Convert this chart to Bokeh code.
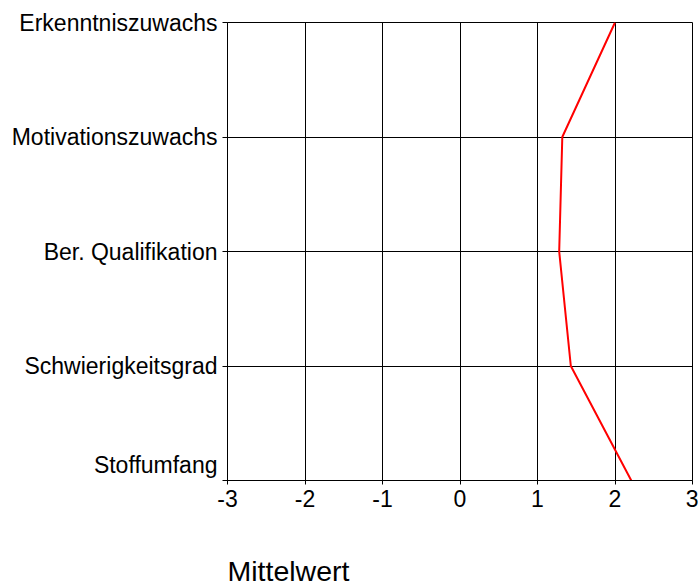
from bokeh.plotting import figure
from bokeh.models import Range1d, FixedTicker, Title
from bokeh.embed import file_html
from bokeh.resources import INLINE

categories = ["Erkenntniszuwachs", "Motivationszuwachs", "Ber. Qualifikation",
              "Schwierigkeitsgrad", "Stoffumfang"]
means = [2.0, 1.32, 1.28, 1.43, 2.21]
x_ticks = [-3, -2, -1, 0, 1, 2, 3]
x_title = "Mittelwert"

n = len(categories)
ypos = [n - 1 - i for i in range(n)]

p = figure(width=698, height=588, output_backend="svg", toolbar_location=None,
           x_range=Range1d(-3, 3), y_range=Range1d(0, n - 1),
           min_border_left=227, min_border_right=6, min_border_top=22,
           min_border_bottom=40)
p.frame_width = 465
p.frame_height = 458

p.line(means, ypos, line_color="red", line_width=2)

FONT = "Liberation Sans"
p.xaxis.ticker = FixedTicker(ticks=x_ticks)
p.xaxis.major_label_overrides = {t: str(t) for t in x_ticks}
p.yaxis.ticker = FixedTicker(ticks=ypos)
labels = {y: c for y, c in zip(ypos, categories)}
# lowest label sits slightly above its tick (to clear the x tick labels)
labels[ypos[-1]] = categories[-1] + "\n "
p.yaxis.major_label_overrides = labels
for ax in (p.xaxis, p.yaxis):
    ax.major_label_text_font = FONT
    ax.major_label_text_font_size = "23px"
    ax.major_label_text_color = "black"
    ax.axis_line_color = "black"
    ax.major_tick_line_color = "black"
    ax.major_tick_in = 0
    ax.minor_tick_line_color = None
p.yaxis.major_tick_out = 5
p.xaxis.major_tick_out = 4
p.yaxis.major_label_standoff = 5
p.xaxis.major_label_standoff = 5

p.grid.grid_line_color = "black"
p.grid.grid_line_alpha = 1.0
p.xgrid.ticker = FixedTicker(ticks=x_ticks)
p.ygrid.ticker = FixedTicker(ticks=ypos)
p.outline_line_color = "black"
p.outline_line_alpha = 1.0

t = Title(text=x_title, align="left", offset=0, text_font=FONT,
          text_font_size="28.5px", text_font_style="normal", text_color="black",
          standoff=86)
p.add_layout(t, "below")

open("out.html", "w").write(file_html(p, INLINE))
